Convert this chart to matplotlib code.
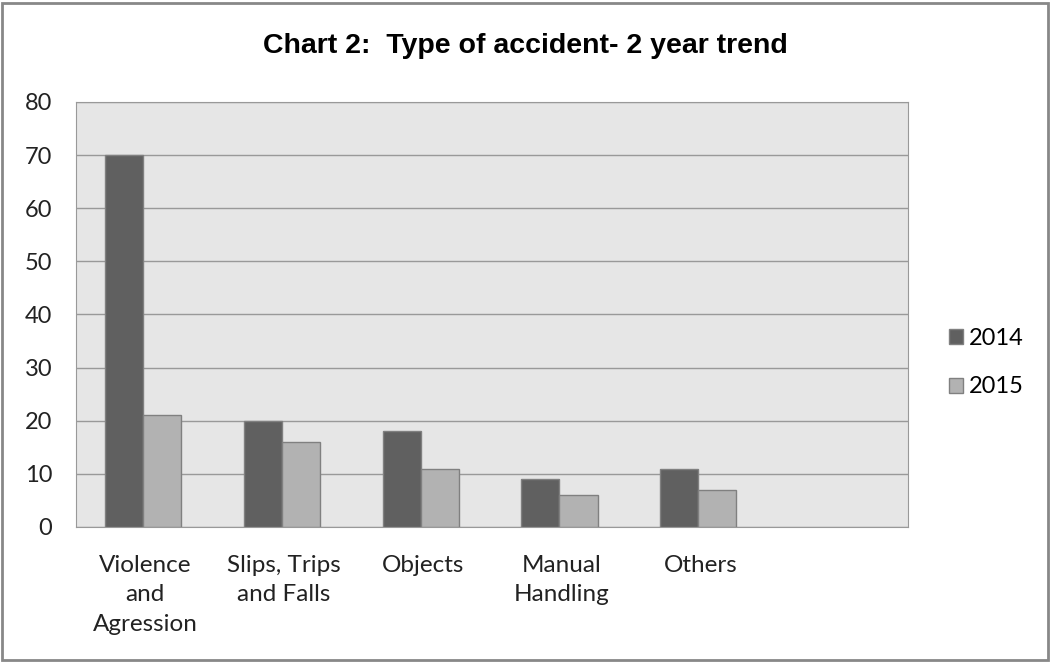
import numpy as np
import matplotlib
from matplotlib import pyplot as plt
from matplotlib.patches import Rectangle

categories = ['Violence\nand\nAgression', 'Slips, Trips\nand Falls', 'Objects',
              'Manual\nHandling', 'Others']
vals_2014 = [70, 20, 18, 9, 11]
vals_2015 = [21, 16, 11, 6, 7]
series = ['2014', '2015']
colors = ['#606060', '#b2b2b2']

fig = plt.figure(figsize=(10.51, 6.62), dpi=100)
fig.patches.append(Rectangle((0.002, 0.003), 0.995, 0.993, transform=fig.transFigure,
                             fill=False, edgecolor='#888888', linewidth=2))
ax = fig.add_axes([0.0723, 0.204, 0.792, 0.642])
ax.set_facecolor('#e6e6e6')

x = np.arange(len(categories))
w = 0.275
ax.bar(x - w/2 - 0.015, vals_2014, w, color=colors[0], edgecolor='#808080', linewidth=1,
       label=series[0], zorder=3)
ax.bar(x + w/2 - 0.015, vals_2015, w, color=colors[1], edgecolor='#808080', linewidth=1,
       label=series[1], zorder=3)

ax.set_xlim(-0.5, 5.5)
ax.set_ylim(0, 80)
ax.set_yticks(range(0, 81, 10))
ax.grid(axis='y', color='#999999', linewidth=1, zorder=0)
ax.set_axisbelow(True)
for s in ax.spines.values():
    s.set_color('#999999')
ax.tick_params(length=0, labelsize=17, colors='#222222')
ax.tick_params(axis='y', pad=17)
ax.set_xticks(x)
ax.set_xticklabels(categories, fontsize=17.5, linespacing=1.5)
ax.tick_params(axis='x', pad=20)
for lbl in ax.get_xticklabels() + ax.get_yticklabels():
    lbl.set_family(['Lato', 'DejaVu Sans'])

fig.text(0.5, 0.931, 'Chart 2:  Type of accident- 2 year trend', ha='center', va='center',
         fontsize=20.5, fontweight='bold', family=['Liberation Sans', 'DejaVu Sans'])

leg = ax.legend(loc='center left', bbox_to_anchor=(0.883, 0.452),
                bbox_transform=fig.transFigure, frameon=False,
                handlelength=0.6, handleheight=0.6, handletextpad=0.25,
                labelspacing=1.15, prop={'family': ['Lato', 'DejaVu Sans'], 'size': 17})

plt.savefig('out.png', dpi=100)
